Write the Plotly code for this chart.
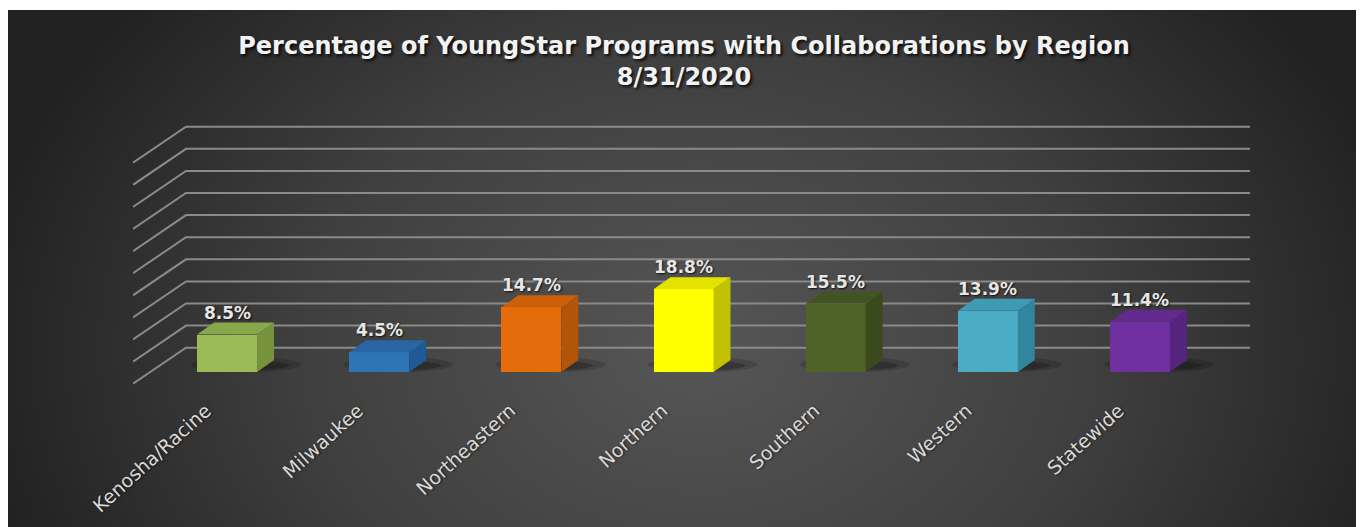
import base64
import plotly.graph_objects as go

# ---------------- data ----------------
categories = ["Kenosha/Racine", "Milwaukee", "Northeastern", "Northern",
              "Southern", "Western", "Statewide"]
values = [0.085, 0.045, 0.147, 0.188, 0.155, 0.139, 0.114]
front_colors = ["#9BBB59", "#2E75B6", "#E46C0A", "#FFFF00", "#4F6228", "#4BACC6", "#7030A0"]
top_colors = ["#87A74A", "#2866A3", "#CC5F08", "#E3E300", "#435424", "#3F9AB3", "#632A8E"]
side_colors = ["#76923C", "#1F5A96", "#B35508", "#C2C200", "#3A4A1D", "#31859C", "#56247C"]
wall_ticks = [0.00, 0.02, 0.04, 0.06, 0.08, 0.10, 0.12, 0.14, 0.16, 0.18, 0.20]
title_lines = ["Percentage of YoungStar Programs with Collaborations by Region", "8/31/2020"]

# ---------------- geometry (pixels) ----------------
W, H = 1364, 527
OX, OY = -8, -8              # page offset compensation (body margin)
ML, MR, MT, MB = 112, 100, 95, 150
PW, PH = W - ML - MR, H - MT - MB
BOTTOM_PX = H - MB
TOP_PX = MT


def xdom(p0, p1):
    return [(p0 + OX - ML) / PW, (p1 + OX - ML) / PW]


# back wall (gridlines) axis
WALL_ZERO_PX = 347.7 + OY
WALL_PPU = (347.7 - 126.7) / 0.20
DIAG_DX, DIAG_DY = 53, 36
WALL_X0, WALL_X1 = 133, 1250
wall_yrange = [(WALL_ZERO_PX - BOTTOM_PX) / WALL_PPU, (WALL_ZERO_PX - TOP_PX) / WALL_PPU]
corner_x = DIAG_DX / (WALL_X1 - WALL_X0)
diag_dy = DIAG_DY / WALL_PPU

wx, wy = [], []
for v in wall_ticks:
    wx += [0, corner_x, 1, None]
    wy += [v - diag_dy, v, v, None]

# bar axis
BAR_ZERO_PX = 372 + OY
BAR_PPU = 440
bar_yrange = [(BAR_ZERO_PX - BOTTOM_PX) / BAR_PPU, (BAR_ZERO_PX - TOP_PX) / BAR_PPU]
BAR_X0, BAR_X1 = 151, 1216
n = len(categories)
cat_px = (BAR_X1 - BAR_X0) / n
FRONT_W = 60
DX, DY = 17, 12
positions = list(range(n))

fig = go.Figure()

fig.add_trace(go.Scatter(
    x=wx, y=wy, mode="lines", xaxis="x", yaxis="y",
    line=dict(color="#8a8a8a", width=2), hoverinfo="skip", showlegend=False))

fig.add_trace(go.Bar(
    x=positions, y=values, xaxis="x2", yaxis="y2",
    width=FRONT_W / cat_px,
    marker=dict(color=front_colors, line=dict(width=0)),
    showlegend=False, hoverinfo="x+y"))

shapes = []
half = FRONT_W / 2
for i, v in enumerate(values):
    h = v * BAR_PPU
    for (x0, x1, y0, y1, op) in [(-36, 74, 0, 15, 0.16), (-20, 62, 2, 11, 0.22)]:
        shapes.append(dict(type="circle", xref="x2", yref="y2", layer="between",
                           xsizemode="pixel", ysizemode="pixel", xanchor=i, yanchor=0,
                           x0=x0, x1=x1, y0=y0, y1=y1,
                           fillcolor="black", opacity=op, line=dict(width=0)))
    shapes.append(dict(type="path", xref="x2", yref="y2", layer="above",
                       xsizemode="pixel", ysizemode="pixel", xanchor=i, yanchor=v,
                       path=f"M{half},0 L{half + DX},{DY} L{half + DX},{DY - h:.2f} L{half},{-h:.2f} Z",
                       fillcolor=side_colors[i], line=dict(width=0)))
    shapes.append(dict(type="path", xref="x2", yref="y2", layer="above",
                       xsizemode="pixel", ysizemode="pixel", xanchor=i, yanchor=v,
                       path=f"M{-half},0 L{half},0 L{half + DX},{DY} L{-half + DX},{DY} Z",
                       fillcolor=top_colors[i], line=dict(width=0)))

annotations = []
for i, v in enumerate(values):
    annotations.append(dict(
        x=i, y=v, xref="x2", yref="y2", text=f"{v * 100:.1f}%", showarrow=False,
        yanchor="bottom", xanchor="center", yshift=10,
        font=dict(family="DejaVu Sans", size=17, color="#e6e6e6", weight="bold",
                  shadow="1px 1px 2px rgba(0,0,0,0.8)")))

svg = ("<svg xmlns='http://www.w3.org/2000/svg' width='1357' height='527' viewBox='0 0 100 100' "
       "preserveAspectRatio='none'><defs><radialGradient id='g' gradientUnits='userSpaceOnUse' "
       "cx='50' cy='62' r='52' gradientTransform='translate(50 62) scale(1 1.9) translate(-50 -62)'>"
       "<stop offset='0' stop-color='#565656'/><stop offset='0.55' stop-color='#3f3f3f'/>"
       "<stop offset='1' stop-color='#222222'/></radialGradient></defs>"
       "<rect x='0' y='0' width='100' height='100' fill='url(#g)'/></svg>")
src = "data:image/svg+xml;base64," + base64.b64encode(svg.encode()).decode()
px0, py0 = 7 + OX, 10 + OY
img_x = (px0 - ML) / PW
img_y = (BOTTOM_PX - py0) / PH

fig.update_layout(
    width=W, height=H,
    margin=dict(l=ML, r=MR, t=MT, b=MB),
    paper_bgcolor="white", plot_bgcolor="rgba(0,0,0,0)",
    images=[dict(source=src, xref="paper", yref="paper", x=img_x, y=img_y,
                 sizex=(W + 20 - px0) / PW, sizey=(H + 20 - py0) / PH,
                 xanchor="left", yanchor="top", sizing="stretch", layer="below")],
    title=dict(text="<br>".join(title_lines), x=(684 + OX) / W, xref="container", xanchor="center",
               y=1 - 46 / H, yref="container", yanchor="top",
               font=dict(family="DejaVu Sans", size=24, color="#f2f2f2", weight="bold",
                         shadow="2px 2px 3px rgba(0,0,0,0.8)")),
    xaxis=dict(domain=xdom(WALL_X0, WALL_X1), range=[0, 1], visible=False, fixedrange=True),
    yaxis=dict(domain=[0, 1], range=wall_yrange, visible=False, fixedrange=True),
    xaxis2=dict(domain=xdom(BAR_X0, BAR_X1), range=[-0.5, n - 0.5], anchor="y2",
                tickmode="array", tickvals=positions, ticktext=categories, tickangle=-42,
                showgrid=False, zeroline=False, showline=False, ticks="",
                ticklabelstandoff=10, ticklabelshift=-21,
                tickfont=dict(family="DejaVu Sans", size=19, color="#d9d9d9",
                              shadow="1px 1px 2px rgba(0,0,0,0.6)"),
                fixedrange=True),
    yaxis2=dict(domain=[0, 1], range=bar_yrange, anchor="x2", visible=False, fixedrange=True),
    shapes=shapes, annotations=annotations,
    bargap=0,
)

fig.write_html("out.html")
